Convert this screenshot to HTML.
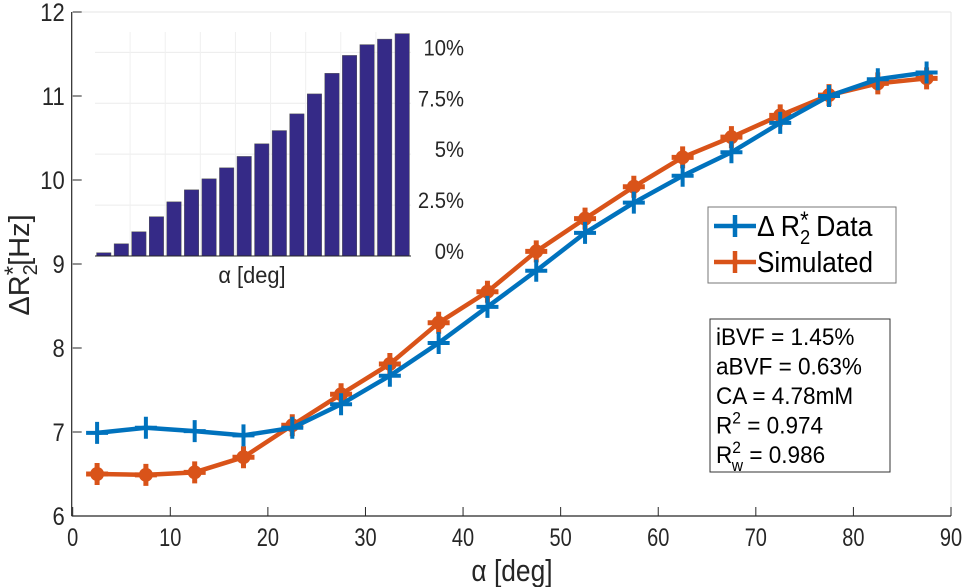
<!DOCTYPE html>
<html><head><meta charset="utf-8"><style>
html,body{margin:0;padding:0;background:#fff;}
svg{display:block;font-family:"Liberation Sans","DejaVu Sans",sans-serif;}
</style></head><body>
<svg id="chart" width="966" height="587" viewBox="0 0 966 587">
<g id="main-grid"></g>
<g id="inset"></g>
<g id="series"></g>
</svg>
<script>
const angles=[2.5,7.5,12.5,17.5,22.5,27.5,32.5,37.5,42.5,47.5,52.5,57.5,62.5,67.5,72.5,77.5,82.5,87.5];
const dataVals=[6.99,7.05,7.01,6.96,7.05,7.33,7.67,8.06,8.49,8.92,9.37,9.73,10.05,10.33,10.68,11.0,11.2,11.28];
const simVals=[6.5,6.49,6.52,6.7,7.08,7.45,7.81,8.3,8.67,9.15,9.54,9.92,10.27,10.51,10.77,11.01,11.15,11.21];
const xTicks=[0,10,20,30,40,50,60,70,80,90];
const yTicks=[6,7,8,9,10,11,12];
const insetCats=[1,2,3,4,5,6,7,8,9,10,11,12,13,14,15,16,17,18];
const insetVals=[0.16,0.6,1.19,1.93,2.66,3.25,3.79,4.33,4.89,5.51,6.16,6.98,7.96,8.97,9.85,10.38,10.65,10.92];
const insetTicks=[0,2.5,5,7.5,10];
const insetTickLabels=["0%","2.5%","5%","7.5%","10%"];

const NS="http://www.w3.org/2000/svg";
const svg=document.getElementById('chart');
function mk(tag,attrs,parent,text){const e=document.createElementNS(NS,tag);for(const k in attrs)e.setAttribute(k,attrs[k]);if(text!==undefined)e.textContent=text;(parent||svg).appendChild(e);return e;}
const X0=72.7,X1=951,Y0=516,Y1=12;
const xs=v=>X0+(v-0)/(90-0)*(X1-X0);
const ys=v=>Y0-(v-6)/(12-6)*(Y0-Y1);
const g=document.getElementById('main-grid');

let e;
e=mk('line',{x1:X0,y1:Y1,x2:X1,y2:Y1,stroke:'#e6e6e6','stroke-width':1},g);


e=mk('line',{x1:X1,y1:Y1,x2:X1,y2:Y0,stroke:'#e6e6e6','stroke-width':1},g);


e=mk('line',{x1:X0-1,y1:Y0,x2:X1,y2:Y0,stroke:'#262626','stroke-width':1.2},g);


e=mk('line',{x1:X0-1,y1:Y1,x2:X0-1,y2:Y0,stroke:'#262626','stroke-width':1.2},g);


xTicks.forEach(t=>{
  const x=xs(t);
  const l=mk('line',{x1:x,y1:Y0,x2:x,y2:Y0-9,stroke:'#262626','stroke-width':1},g);
  
  
  const tx=mk('text',{x:x,y:Y0+30,'font-size':25,'text-anchor':'middle',fill:'#262626',transform:`translate(${x},0) scale(0.8,1) translate(${-x},0)`},g,String(t));
  
  
});
yTicks.forEach(t=>{
  const y=ys(t);
  const l=mk('line',{x1:X0,y1:y,x2:X0+9,y2:y,stroke:'#262626','stroke-width':1},g);
  
  
  const tx=mk('text',{x:X0-8,y:y+9,'font-size':25,'text-anchor':'end',fill:'#262626',transform:`translate(${X0-8},0) scale(0.88,1) translate(${-(X0-8)},0)`},g,String(t));
  
  
});
e=mk('text',{x:512,y:581,'font-size':31,'text-anchor':'middle',fill:'#262626',transform:'translate(512,0) scale(0.85,1) translate(-512,0)'},g,'α [deg]');


e=mk('text',{x:0,y:0,'font-size':29,'text-anchor':'middle',fill:'#262626',transform:'translate(29,265) rotate(-90)'},g);


e.innerHTML='ΔR<tspan font-size="20" dy="8">2</tspan><tspan font-size="24" dx="-11" dy="-16">*</tspan><tspan dy="8">[Hz]</tspan>';

const ig=document.getElementById('inset');
const IX0=95,IX1=411,IY0=256,IY1=32;
const ixs=c=>IX0+(c-0.5)/18*(IX1-IX0);
const iys=v=>IY0-v/11*(IY0-IY1);
e=mk('rect',{x:IX0,y:IY1,width:IX1-IX0,height:IY0-IY1,fill:'#fff'},ig);


insetTicks.forEach((t,i)=>{
  const y=iys(t);
  const l=mk('line',{x1:IX0,y1:y,x2:IX1,y2:y,stroke:'#ececec','stroke-width':1},ig);
  
  
  const tx=mk('text',{x:464,y:y+3,'font-size':22,'text-anchor':'end',fill:'#262626',transform:`translate(464,0) scale(0.92,1) translate(-464,0)`},ig,insetTickLabels[i]);
  
  
});
[2.5,4.5,6.5,8.5,10.5,12.5,14.5,16.5].forEach(c=>{
  const l=mk('line',{x1:ixs(c),y1:IY1,x2:ixs(c),y2:IY0,stroke:'#f0f0f0','stroke-width':1},ig);
  
  
});
insetCats.forEach((c,i)=>{
  const w=(IX1-IX0)/18*0.82;
  const r=mk('rect',{x:ixs(c)-w/2,y:iys(insetVals[i]),width:w,height:IY0-iys(insetVals[i]),fill:'#352a87',stroke:'#555','stroke-width':0.5},ig);
  
  
});
e=mk('line',{x1:IX0,y1:IY0,x2:IX1,y2:IY0,stroke:'#262626','stroke-width':1},ig);


e=mk('text',{x:252,y:283,'font-size':23,'text-anchor':'middle',fill:'#262626',transform:'translate(252,0) scale(0.95,1) translate(-252,0)'},ig,'α [deg]');



const sg=document.getElementById('series');
function series(vals,color,name,thick){
  const pts=angles.map((a,i)=>xs(a)+','+ys(vals[i])).join(' ');
  const pl=mk('polyline',{points:pts,fill:'none',stroke:color,'stroke-width':4.5,'stroke-linejoin':'round'},sg);
  
  
  angles.forEach((a,i)=>{
    const x=xs(a),y=ys(vals[i]),s=11;
    const m=mk('path',{d:`M${x-s},${y}H${x+s}M${x},${y-s}V${y+s}`,stroke:color,'stroke-width':thick,fill:'none'},sg);
    
    
    if(thick>4){const c=mk('circle',{cx:x,cy:y,r:7,fill:color},sg);
      
      }
  });
}
series(simVals,'#d95319','simulated',5);
series(dataVals,'#0072bd','data',4);

const lg=mk('g',{},svg);


e=mk('rect',{x:708,y:207,width:188,height:76,fill:'#fff',stroke:'#777','stroke-width':1},lg);


[['#0072bd',226,'data'],['#d95319',262,'simulated']].forEach(([c,y,n])=>{
  const p=mk('path',{d:`M714,${y}H756M735,${y-11}V${y+11}`,stroke:c,'stroke-width':4.5,fill:'none'},lg);
  
  
});
e=mk('text',{x:757,y:236,'font-size':29,fill:'#000',transform:'translate(757,0) scale(0.92,1) translate(-757,0)'},lg);


e.innerHTML='Δ R<tspan font-size="20" dy="8">2</tspan><tspan font-size="24" dx="-11" dy="-16">*</tspan><tspan dx="8" dy="8">Data</tspan>';
e=mk('text',{x:757,y:272,'font-size':29,fill:'#000',transform:'translate(757,0) scale(0.9,1) translate(-757,0)'},lg,'Simulated');



const tb=mk('g',{},svg);


e=mk('rect',{x:710,y:319,width:180,height:153,fill:'#fff',stroke:'#333','stroke-width':1},tb);


const lines=['iBVF = 1.45%','aBVF = 0.63%','CA = 4.78mM','R<tspan font-size="17" dy="-10">2</tspan><tspan dy="10"> = 0.974</tspan>','R<tspan font-size="17" dy="-10">2</tspan><tspan font-size="17" dx="-10" dy="18">w</tspan><tspan dy="-8"> = 0.986</tspan>'];
lines.forEach((t,i)=>{
  const tx=mk('text',{x:716,y:345+i*29.5,'font-size':24.5,fill:'#000',transform:'translate(716,0) scale(0.92,1) translate(-716,0)'},tb);
  
  
  tx.innerHTML=t;
});
</script>
</body></html>
